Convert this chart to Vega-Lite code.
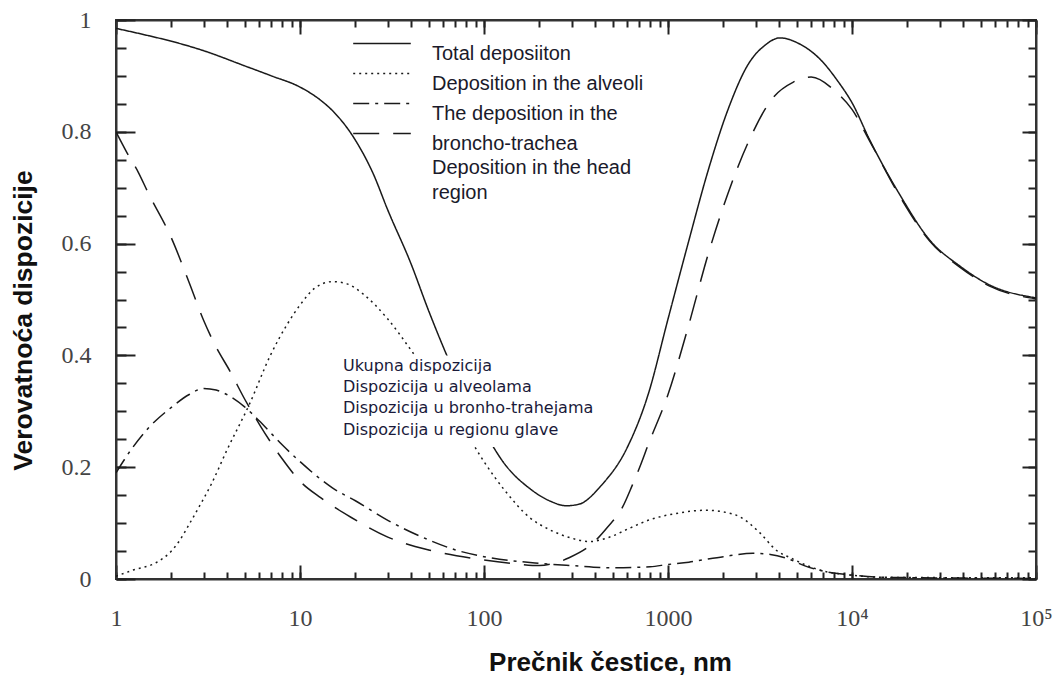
{
  "$schema": "https://vega.github.io/schema/vega-lite/v6.json",
  "width": 920,
  "height": 559,
  "autosize": {"type": "none"},
  "padding": {"left": 116, "top": 20, "right": 21, "bottom": 96},
  "background": "white",
  "config": {
    "view": {"stroke": "#333", "strokeWidth": 2},
    "style": {"guide-label": {"lineHeight": 24.5}},
    "axis": {"grid": false, "domainColor": "#333", "domainWidth": 2}
  },
  "datasets": {
    "curves": [
      {"d":1,"p":0.985,"s":"Total"},{"d":1.5,"p":0.972,"s":"Total"},{"d":2,"p":0.962,"s":"Total"},{"d":3,"p":0.945,"s":"Total"},{"d":5,"p":0.918,"s":"Total"},{"d":7,"p":0.9,"s":"Total"},{"d":10,"p":0.88,"s":"Total"},{"d":13,"p":0.856,"s":"Total"},{"d":15,"p":0.838,"s":"Total"},{"d":20,"p":0.785,"s":"Total"},{"d":25,"p":0.725,"s":"Total"},{"d":30,"p":0.66,"s":"Total"},{"d":40,"p":0.565,"s":"Total"},{"d":50,"p":0.48,"s":"Total"},{"d":70,"p":0.365,"s":"Total"},{"d":100,"p":0.265,"s":"Total"},{"d":130,"p":0.205,"s":"Total"},{"d":177,"p":0.162,"s":"Total"},{"d":230,"p":0.139,"s":"Total"},{"d":280,"p":0.131,"s":"Total"},{"d":330,"p":0.134,"s":"Total"},{"d":430,"p":0.166,"s":"Total"},{"d":600,"p":0.235,"s":"Total"},{"d":780,"p":0.33,"s":"Total"},{"d":1000,"p":0.465,"s":"Total"},{"d":1285,"p":0.6,"s":"Total"},{"d":1650,"p":0.73,"s":"Total"},{"d":2120,"p":0.84,"s":"Total"},{"d":2720,"p":0.92,"s":"Total"},{"d":3370,"p":0.955,"s":"Total"},{"d":4060,"p":0.968,"s":"Total"},{"d":5200,"p":0.957,"s":"Total"},{"d":6700,"p":0.93,"s":"Total"},{"d":8400,"p":0.89,"s":"Total"},{"d":10000,"p":0.852,"s":"Total"},{"d":12500,"p":0.785,"s":"Total"},{"d":18000,"p":0.69,"s":"Total"},{"d":26500,"p":0.606,"s":"Total"},{"d":38500,"p":0.56,"s":"Total"},{"d":56000,"p":0.526,"s":"Total"},{"d":100000,"p":0.503,"s":"Total"},
      {"d":1,"p":0.005,"s":"Alveoli"},{"d":1.24,"p":0.016,"s":"Alveoli"},{"d":1.67,"p":0.03,"s":"Alveoli"},{"d":2,"p":0.05,"s":"Alveoli"},{"d":2.23,"p":0.07,"s":"Alveoli"},{"d":2.5,"p":0.098,"s":"Alveoli"},{"d":2.76,"p":0.123,"s":"Alveoli"},{"d":3.3,"p":0.17,"s":"Alveoli"},{"d":4,"p":0.23,"s":"Alveoli"},{"d":5.35,"p":0.315,"s":"Alveoli"},{"d":6.9,"p":0.4,"s":"Alveoli"},{"d":8.5,"p":0.455,"s":"Alveoli"},{"d":10,"p":0.49,"s":"Alveoli"},{"d":12,"p":0.52,"s":"Alveoli"},{"d":15,"p":0.532,"s":"Alveoli"},{"d":18,"p":0.528,"s":"Alveoli"},{"d":22,"p":0.51,"s":"Alveoli"},{"d":30,"p":0.465,"s":"Alveoli"},{"d":40,"p":0.41,"s":"Alveoli"},{"d":50,"p":0.365,"s":"Alveoli"},{"d":70,"p":0.295,"s":"Alveoli"},{"d":100,"p":0.21,"s":"Alveoli"},{"d":130,"p":0.158,"s":"Alveoli"},{"d":177,"p":0.11,"s":"Alveoli"},{"d":228,"p":0.088,"s":"Alveoli"},{"d":293,"p":0.074,"s":"Alveoli"},{"d":376,"p":0.067,"s":"Alveoli"},{"d":482,"p":0.075,"s":"Alveoli"},{"d":620,"p":0.091,"s":"Alveoli"},{"d":795,"p":0.106,"s":"Alveoli"},{"d":1100,"p":0.117,"s":"Alveoli"},{"d":1600,"p":0.123,"s":"Alveoli"},{"d":2000,"p":0.12,"s":"Alveoli"},{"d":2460,"p":0.111,"s":"Alveoli"},{"d":3170,"p":0.082,"s":"Alveoli"},{"d":3860,"p":0.052,"s":"Alveoli"},{"d":4620,"p":0.038,"s":"Alveoli"},{"d":6680,"p":0.016,"s":"Alveoli"},{"d":9800,"p":0.007,"s":"Alveoli"},{"d":15000,"p":0.003,"s":"Alveoli"},{"d":100000,"p":0.002,"s":"Alveoli"},
      {"d":1,"p":0.19,"s":"Bronchi"},{"d":1.2,"p":0.23,"s":"Bronchi"},{"d":1.5,"p":0.27,"s":"Bronchi"},{"d":2,"p":0.307,"s":"Bronchi"},{"d":2.5,"p":0.33,"s":"Bronchi"},{"d":3,"p":0.341,"s":"Bronchi"},{"d":3.5,"p":0.338,"s":"Bronchi"},{"d":4,"p":0.33,"s":"Bronchi"},{"d":5,"p":0.308,"s":"Bronchi"},{"d":6,"p":0.283,"s":"Bronchi"},{"d":7,"p":0.26,"s":"Bronchi"},{"d":8,"p":0.24,"s":"Bronchi"},{"d":10,"p":0.21,"s":"Bronchi"},{"d":13,"p":0.178,"s":"Bronchi"},{"d":15,"p":0.163,"s":"Bronchi"},{"d":20,"p":0.14,"s":"Bronchi"},{"d":30,"p":0.105,"s":"Bronchi"},{"d":50,"p":0.07,"s":"Bronchi"},{"d":70,"p":0.052,"s":"Bronchi"},{"d":100,"p":0.04,"s":"Bronchi"},{"d":200,"p":0.028,"s":"Bronchi"},{"d":300,"p":0.024,"s":"Bronchi"},{"d":500,"p":0.02,"s":"Bronchi"},{"d":800,"p":0.022,"s":"Bronchi"},{"d":1000,"p":0.026,"s":"Bronchi"},{"d":1300,"p":0.03,"s":"Bronchi"},{"d":1600,"p":0.035,"s":"Bronchi"},{"d":2000,"p":0.04,"s":"Bronchi"},{"d":2900,"p":0.046,"s":"Bronchi"},{"d":3600,"p":0.044,"s":"Bronchi"},{"d":4500,"p":0.036,"s":"Bronchi"},{"d":5500,"p":0.024,"s":"Bronchi"},{"d":7000,"p":0.014,"s":"Bronchi"},{"d":10000,"p":0.007,"s":"Bronchi"},{"d":15000,"p":0.003,"s":"Bronchi"},{"d":100000,"p":0.001,"s":"Bronchi"},
      {"d":1,"p":0.8,"s":"Head"},{"d":1.15,"p":0.762,"s":"Head"},{"d":1.32,"p":0.728,"s":"Head"},{"d":1.5,"p":0.69,"s":"Head"},{"d":2,"p":0.61,"s":"Head"},{"d":2.5,"p":0.53,"s":"Head"},{"d":3,"p":0.462,"s":"Head"},{"d":3.5,"p":0.415,"s":"Head"},{"d":4.16,"p":0.372,"s":"Head"},{"d":5,"p":0.322,"s":"Head"},{"d":6.06,"p":0.275,"s":"Head"},{"d":8,"p":0.215,"s":"Head"},{"d":10,"p":0.175,"s":"Head"},{"d":13,"p":0.145,"s":"Head"},{"d":19,"p":0.11,"s":"Head"},{"d":30,"p":0.075,"s":"Head"},{"d":50,"p":0.052,"s":"Head"},{"d":100,"p":0.034,"s":"Head"},{"d":150,"p":0.027,"s":"Head"},{"d":200,"p":0.024,"s":"Head"},{"d":240,"p":0.028,"s":"Head"},{"d":290,"p":0.038,"s":"Head"},{"d":390,"p":0.064,"s":"Head"},{"d":470,"p":0.093,"s":"Head"},{"d":565,"p":0.128,"s":"Head"},{"d":640,"p":0.168,"s":"Head"},{"d":700,"p":0.199,"s":"Head"},{"d":780,"p":0.24,"s":"Head"},{"d":1000,"p":0.33,"s":"Head"},{"d":1285,"p":0.45,"s":"Head"},{"d":1650,"p":0.58,"s":"Head"},{"d":2120,"p":0.69,"s":"Head"},{"d":2720,"p":0.78,"s":"Head"},{"d":3700,"p":0.86,"s":"Head"},{"d":4800,"p":0.889,"s":"Head"},{"d":6000,"p":0.898,"s":"Head"},{"d":8200,"p":0.871,"s":"Head"},{"d":10000,"p":0.84,"s":"Head"},{"d":12500,"p":0.783,"s":"Head"},{"d":18000,"p":0.687,"s":"Head"},{"d":26500,"p":0.604,"s":"Head"},{"d":38500,"p":0.558,"s":"Head"},{"d":56000,"p":0.524,"s":"Head"},{"d":100000,"p":0.501,"s":"Head"}
    ],
    "note": [{}]
  },
  "resolve": {"axis": {"x": "independent", "y": "independent"}},
  "layer": [
    {
      "data": {"name": "curves"},
      "transform": [{"filter": "datum.s == 'Total' || datum.s == 'Alveoli'"}],
      "mark": {"type": "line", "interpolate": "monotone", "strokeWidth": 1.5, "color": "#1a1a1a", "clip": true},
      "encoding": {
        "x": {
          "field": "d", "type": "quantitative",
          "scale": {"type": "log", "domain": [1, 100000]},
          "axis": {
            "orient": "bottom",
            "values": [1,2,3,4,5,6,7,8,9,10,20,30,40,50,60,70,80,90,100,200,300,400,500,600,700,800,900,1000,2000,3000,4000,5000,6000,7000,8000,9000,10000,20000,30000,40000,50000,60000,70000,80000,90000,100000],
            "tickSize": -7, "tickColor": "#222", "tickWidth": 2,
            "labelExpr": "datum.value == 1 ? '1' : datum.value == 10 ? '10' : datum.value == 100 ? '100' : datum.value == 1000 ? '1000' : datum.value == 10000 ? '10⁴' : datum.value == 100000 ? '10⁵' : ''",
            "labelFont": "Liberation Serif", "labelFontSize": 24, "labelColor": "#444",
            "labelPadding": 34, "labelOverlap": false, "labelFlush": false, "labelBound": false,
            "title": "Prečnik čestice, nm",
            "titleFont": "Liberation Sans", "titleFontSize": 26, "titleFontWeight": "bold", "titleColor": "#111",
            "titleX": 494, "titleY": 91, "titleAlign": "center", "titleBaseline": "alphabetic"
          }
        },
        "y": {
          "field": "p", "type": "quantitative",
          "scale": {"domain": [0, 1]},
          "axis": {
            "orient": "left",
            "values": [0,0.05,0.1,0.15,0.2,0.25,0.3,0.35,0.4,0.45,0.5,0.55,0.6,0.65,0.7,0.75,0.8,0.85,0.9,0.95,1],
            "tickSize": -10, "tickColor": "#222", "tickWidth": 2,
            "labelExpr": "round(datum.value*20) % 4 == 0 ? (datum.value == 0 ? '0' : datum.value == 1 ? '1' : format(datum.value, '.1f')) : ''",
            "labelFont": "Liberation Serif", "labelFontSize": 24, "labelColor": "#444",
            "labelPadding": 35, "labelOverlap": false, "labelFlush": false, "labelBound": false,
            "title": "Verovatnoća dispozicije",
            "titleFont": "Liberation Sans", "titleFontSize": 26.5, "titleFontWeight": "bold", "titleColor": "#111",
            "titleAngle": -90, "titleX": -93, "titleY": 300, "titleAlign": "center", "titleBaseline": "middle"
          }
        },
        "strokeDash": {
          "field": "s", "type": "nominal",
          "scale": {"domain": ["Total", "Alveoli", "Bronchi", "Head"], "range": [[1, 0], [2, 4], [16, 6, 3, 6], [26, 14]]},
          "legend": {
            "title": null, "orient": "none", "legendX": 256, "legendY": 13.5, "padding": 0,
            "symbolType": "M-4.8,0H4.8", "symbolSize": 144, "symbolStrokeWidth": 1.5,
            "symbolStrokeColor": "#1a1a1a", "symbolFillColor": "transparent",
            "labelFont": "Liberation Sans", "labelFontSize": 20, "labelColor": "#1a1a2a",
            "labelBaseline": "top", "labelOffset": 40, "labelLimit": 500, "rowPadding": 0,
            "labelExpr": "datum.value == 'Total' ? 'Total deposiiton' : datum.value == 'Alveoli' ? 'Deposition in the alveoli' : datum.value == 'Bronchi' ? 'The deposition in the' : ['broncho-trachea', 'Deposition in the head', 'region']"
          }
        }
      }
    },
    {
      "data": {"name": "curves"},
      "transform": [{"filter": "datum.s == 'Bronchi' || datum.s == 'Head'"}],
      "mark": {"type": "line", "interpolate": "monotone", "strokeWidth": 1.5, "color": "#1a1a1a", "clip": true},
      "encoding": {
        "x": {
          "field": "d", "type": "quantitative",
          "axis": {"orient": "bottom", "values": [1,10,100,1000,10000,100000], "tickSize": -14, "tickColor": "#222", "tickWidth": 2, "labels": false, "domain": false, "title": null}
        },
        "y": {
          "field": "p", "type": "quantitative",
          "axis": {"orient": "left", "values": [0,0.2,0.4,0.6,0.8,1], "tickSize": -19, "tickColor": "#222", "tickWidth": 2, "labels": false, "domain": false, "title": null}
        },
        "strokeDash": {"field": "s", "type": "nominal"}
      }
    },
    {
      "data": {"name": "note"},
      "mark": {"type": "rect", "color": "white"},
      "encoding": {
        "x": {
          "datum": 16.1, "type": "quantitative",
          "axis": {
            "orient": "top",
            "values": [1,2,3,4,5,6,7,8,9,10,20,30,40,50,60,70,80,90,100,200,300,400,500,600,700,800,900,1000,2000,3000,4000,5000,6000,7000,8000,9000,10000,20000,30000,40000,50000,60000,70000,80000,90000,100000],
            "tickSize": -7, "tickColor": "#222", "tickWidth": 2, "labels": false, "title": null
          }
        },
        "x2": {"datum": 427},
        "y": {
          "datum": 0.4, "type": "quantitative",
          "axis": {
            "orient": "right",
            "values": [0,0.05,0.1,0.15,0.2,0.25,0.3,0.35,0.4,0.45,0.5,0.55,0.6,0.65,0.7,0.75,0.8,0.85,0.9,0.95,1],
            "tickSize": -8, "tickColor": "#222", "tickWidth": 2, "labels": false, "title": null
          }
        },
        "y2": {"datum": 0.236}
      }
    },
    {
      "data": {"name": "note"},
      "mark": {
        "type": "text",
        "text": ["Ukupna dispozicija", "Dispozicija u alveolama", "Dispozicija u bronho-trahejama", "Dispozicija u regionu glave"],
        "align": "left", "baseline": "top", "font": "DejaVu Sans", "fontSize": 16, "lineHeight": 21.3, "color": "#1a1a3a"
      },
      "encoding": {
        "x": {
          "datum": 17.13, "type": "quantitative",
          "axis": {"orient": "top", "values": [1,10,100,1000,10000,100000], "tickSize": -14, "tickColor": "#222", "tickWidth": 2, "labels": false, "domain": false, "title": null}
        },
        "y": {
          "datum": 0.396, "type": "quantitative",
          "axis": {"orient": "right", "values": [0,0.2,0.4,0.6,0.8,1], "tickSize": -14, "tickColor": "#222", "tickWidth": 2, "labels": false, "domain": false, "title": null}
        }
      }
    }
  ]
}
